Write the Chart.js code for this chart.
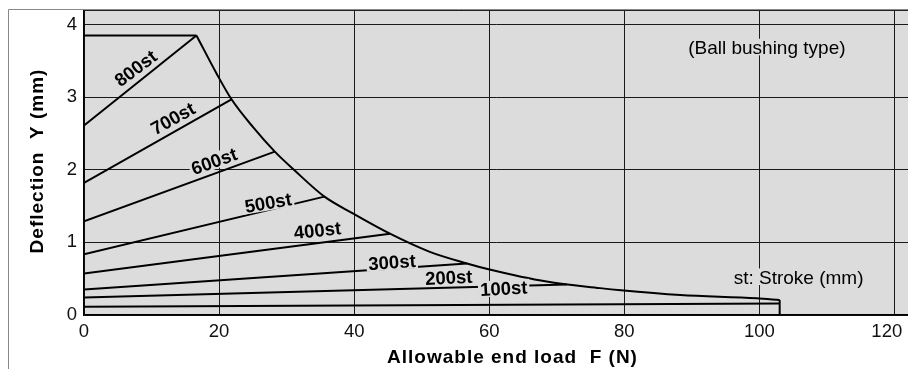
<!DOCTYPE html>
<html>
<head>
<meta charset="utf-8">
<script src="https://cdn.jsdelivr.net/npm/chart.js@4/dist/chart.umd.min.js"></script>
<style>
    html, body { margin: 0; padding: 0; background: #fff; }
</style>
</head>
<body>
<canvas id="chart" width="908" height="369"></canvas>
<script>
// stroke lines: each runs from (0, start) to the limit curve
const strokeNames = ['800st', '700st', '600st', '500st', '400st', '300st', '200st', '100st'];
const strokeStartY = [2.61, 1.82, 1.29, 0.835, 0.57, 0.35, 0.24, 0.114];
const strokeEndX = [16.65, 21.84, 28.25, 35.6, 45.3, 56.7, 71.5, 103];
const strokeEndY = [3.85, 2.97, 2.25, 1.63, 1.12, 0.71, 0.42, 0.16];

// max deflection cap and allowable load limit curve
const capX = [0, 16.65];
const capY = [3.85, 3.85];
const limitX = [16.65, 19.6, 21.84, 25.0, 28.25, 31.2, 35.6, 39.8, 45.3, 51.2, 56.7, 59.9, 68.5, 76.4, 79.5, 88.3, 99.6, 103];
const limitY = [3.85, 3.33, 2.97, 2.59, 2.25, 1.99, 1.63, 1.40, 1.12, 0.87, 0.71, 0.63, 0.46, 0.37, 0.34, 0.275, 0.23, 0.206];
const stopX = [103, 103];
const stopY = [0.206, 0];

// where the stroke names sit (data units) and their tilt
const labelX = [7.63, 13.14, 19.24, 27.26, 34.55, 45.6, 54.0, 62.15];
const labelY = [3.40, 2.71, 2.12, 1.55, 1.17, 0.73, 0.52, 0.37];
const labelAngle = [-37, -29, -20, -10, -6, -4, -3, -3];

const FONT = '"Liberation Sans", Arial, sans-serif';
const PLOT_BG = '#dcdcdc';

function toPoints(xs, ys) {
    return xs.map((v, i) => ({ x: v, y: ys[i] }));
}

const datasets = [];
strokeNames.forEach((name, i) => {
    datasets.push({
        label: name,
        data: toPoints([0, strokeEndX[i]], [strokeStartY[i], strokeEndY[i]])
    });
});
datasets.push({ label: 'cap', data: toPoints(capX, capY) });
datasets.push({ label: 'limit', data: toPoints(limitX, limitY), cubicInterpolationMode: 'monotone' });
datasets.push({ label: 'stop', data: toPoints(stopX, stopY) });
datasets.forEach(d => {
    d.borderColor = '#000';
    d.borderWidth = 2;
    d.pointRadius = 0;
    d.fill = false;
});

function boxedText(ctx, text, px, py, angle, capH) {
    ctx.save();
    ctx.translate(px, py);
    ctx.rotate(angle * Math.PI / 180);
    const w = ctx.measureText(text).width;
    ctx.fillStyle = PLOT_BG;
    ctx.fillRect(-w / 2 - 2, -capH / 2 - 1.5, w + 4, capH + 3);
    ctx.fillStyle = '#000';
    ctx.textAlign = 'center';
    ctx.textBaseline = 'alphabetic';
    ctx.fillText(text, 0, capH / 2);
    ctx.restore();
}

const decor = {
    id: 'decor',
    beforeDraw(chart) {
        const ctx = chart.ctx;
        const a = chart.chartArea;
        ctx.save();
        ctx.fillStyle = '#ffffff';
        ctx.fillRect(0, 0, chart.width, chart.height);
        ctx.fillStyle = PLOT_BG;
        ctx.fillRect(a.left, a.top, a.right - a.left, a.bottom - a.top);
        ctx.restore();
    },
    afterDatasetsDraw(chart) {
        const { ctx, scales: { x, y } } = chart;
        ctx.save();
        ctx.font = 'bold 18.5px ' + FONT;
        strokeNames.forEach((name, i) => {
            boxedText(ctx, name, x.getPixelForValue(labelX[i]), y.getPixelForValue(labelY[i]), labelAngle[i], 13.2);
        });
        ctx.font = '19px ' + FONT;
        boxedText(ctx, '(Ball bushing type)', x.getPixelForValue(101.1), y.getPixelForValue(3.69), 0, 13.6);
        boxedText(ctx, 'st: Stroke (mm)', x.getPixelForValue(105.8), y.getPixelForValue(0.527), 0, 13.6);
        ctx.restore();
    },
    afterDraw(chart) {
        const { ctx, chartArea: a } = chart;
        ctx.save();
        // outer frame
        ctx.strokeStyle = '#888';
        ctx.lineWidth = 1;
        ctx.beginPath();
        ctx.moveTo(8.5, chart.height);
        ctx.lineTo(8.5, 9.5);
        ctx.lineTo(chart.width, 9.5);
        ctx.stroke();
        ctx.strokeStyle = '#222';
        ctx.beginPath();
        ctx.moveTo(a.left, a.top + 0.5);
        ctx.lineTo(a.right, a.top + 0.5);
        ctx.stroke();

        // axis titles
        ctx.fillStyle = '#000';
        ctx.font = 'bold 19px ' + FONT;
        ctx.letterSpacing = '1px';
        ctx.textAlign = 'center';
        ctx.textBaseline = 'alphabetic';
        ctx.fillText('Allowable end load  F (N)', 512.5, 363.3);
        ctx.translate(43.3, 161);
        ctx.rotate(-Math.PI / 2);
        ctx.fillText('Deflection  Y (mm)', 0, 0);
        ctx.restore();
    }
};

new Chart(document.getElementById('chart').getContext('2d'), {
    type: 'line',
    data: { datasets: datasets },
    options: {
        responsive: false,
        animation: false,
        layout: { padding: { top: 10, left: 0, right: 0, bottom: 0 } },
        plugins: {
            legend: { display: false },
            tooltip: { enabled: false }
        },
        scales: {
            x: {
                type: 'linear',
                min: 0,
                max: 122,
                ticks: {
                    stepSize: 20,
                    includeBounds: false,
                    color: '#111',
                    padding: 6,
                    font: { family: FONT, size: 18.5 },
                    // last label sits a bit left so it stays inside the page
                    callback: v => (v === 120 ? '120   ' : String(v))
                },
                grid: { color: '#1a1a1a', lineWidth: 1, drawTicks: false },
                border: { color: '#000', width: 1.5 },
                afterFit(s) {
                    s.height = 54;
                    s.paddingLeft = 0;
                    s.paddingRight = 0;
                }
            },
            y: {
                type: 'linear',
                min: 0,
                max: 4.2,
                ticks: {
                    stepSize: 1,
                    includeBounds: false,
                    color: '#111',
                    padding: 7,
                    font: { family: FONT, size: 18.5 }
                },
                grid: { color: '#1a1a1a', lineWidth: 1, drawTicks: false },
                border: { color: '#000', width: 1.5 },
                afterFit(s) {
                    s.width = 84;
                    s.paddingTop = 0;
                    s.paddingBottom = 0;
                }
            }
        }
    },
    plugins: [decor]
});
</script>
</body>
</html>
